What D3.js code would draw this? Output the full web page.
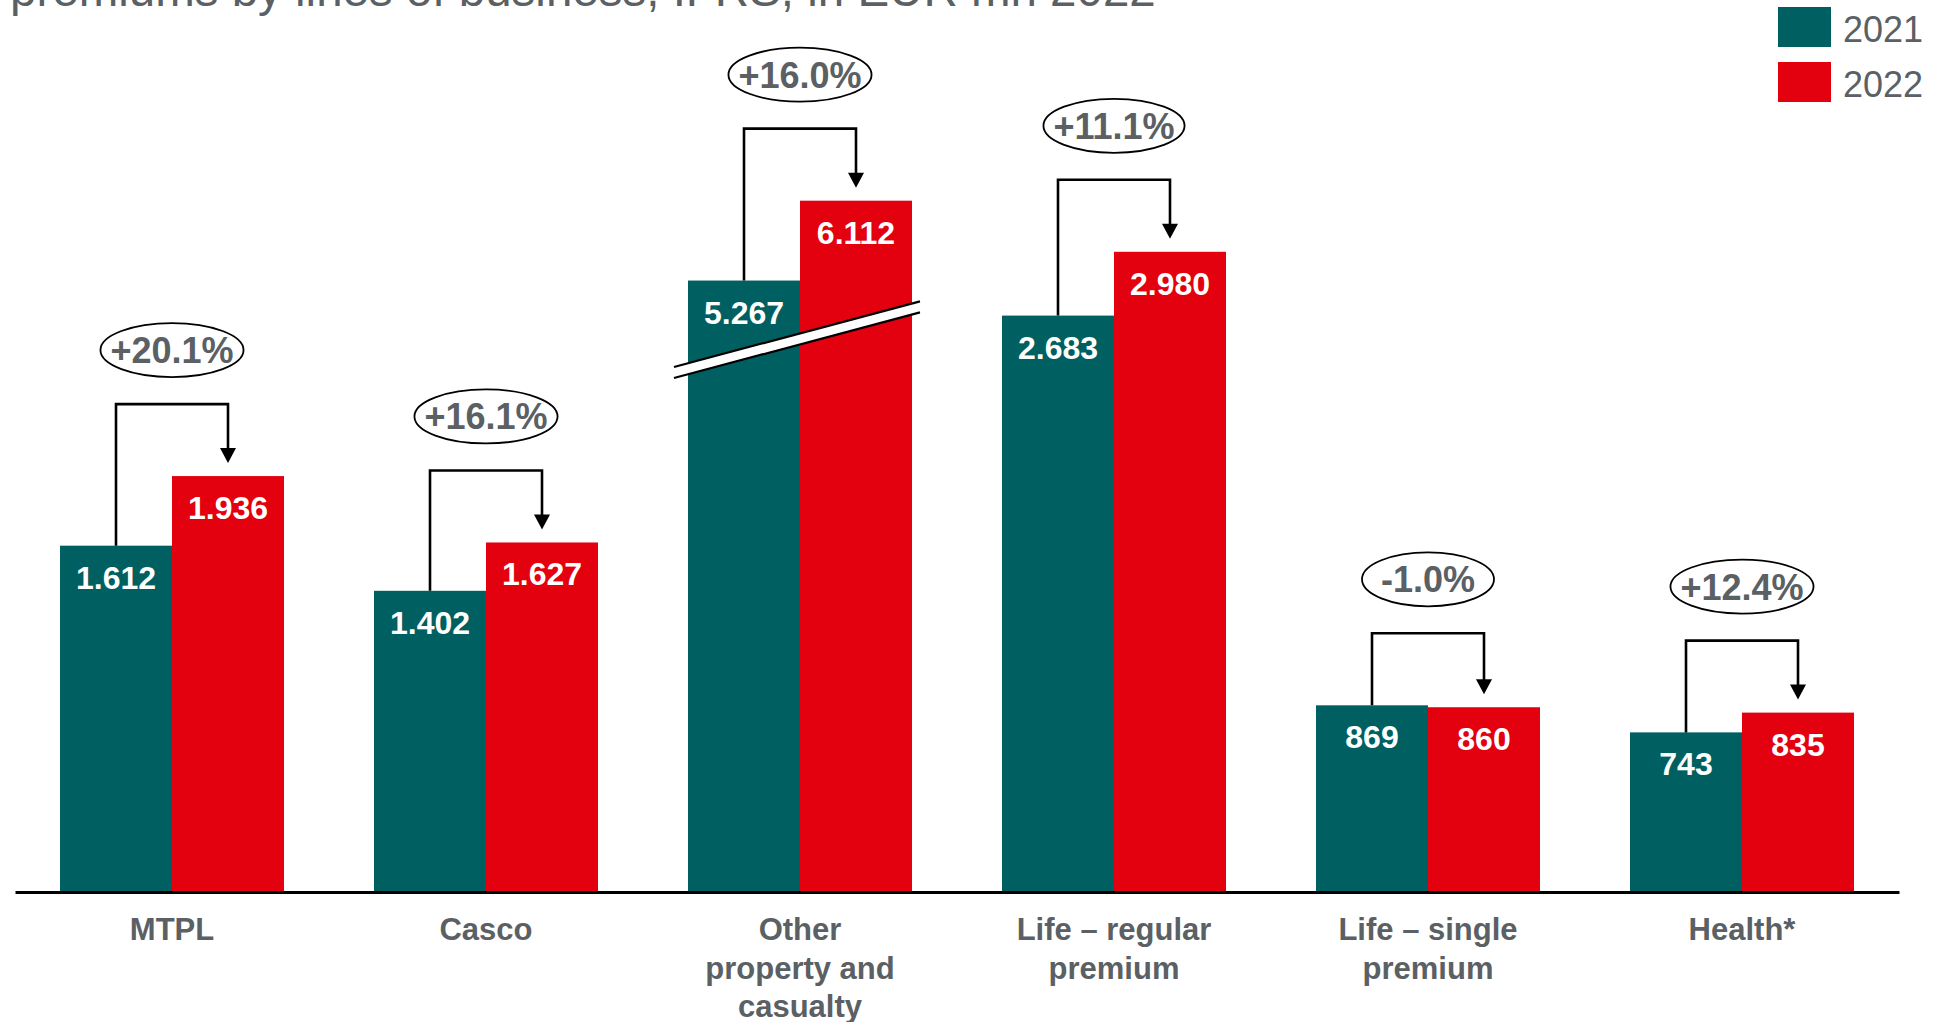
<!DOCTYPE html>
<html>
<head>
<meta charset="utf-8">
<script src="https://cdn.jsdelivr.net/npm/d3@7"></script>
<style>
  html, body { margin: 0; padding: 0; background: #fff; }
  svg { display: block; font-family: "Liberation Sans", Arial, sans-serif; }
</style>
</head>
<body>
<svg id="chart" width="1945" height="1022"></svg>
<script>
// Gross written premiums by line of business, EUR mn
const categories = ["MTPL", "Casco", "Other\nproperty and\ncasualty", "Life – regular\npremium", "Life – single\npremium", "Health*"];
const years = ["2021", "2022"];
const values2021 = [1612, 1402, 5267, 2683, 869, 743];
const values2022 = [1936, 1627, 6112, 2980, 860, 835];
const valueLabels2021 = ["1.612", "1.402", "5.267", "2.683", "869", "743"];
const valueLabels2022 = ["1.936", "1.627", "6.112", "2.980", "860", "835"];
const growthLabels = ["+20.1%", "+16.1%", "+16.0%", "+11.1%", "-1.0%", "+12.4%"];
const brokenCategory = "Other\nproperty and\ncasualty";

const colors = { "2021": "#005F61", "2022": "#E3000F" };
const grey = "#5A6063";

const svg = d3.select("#chart");
const axisY = 892;

// Category bands and year sub-bands
const x = d3.scaleBand().domain(categories).range([15, 1899]).paddingInner(90 / 314).paddingOuter(45 / 314);
const xSub = d3.scaleBand().domain(years).range([0, x.bandwidth()]);

// Main value scale
const y = d3.scaleLinear().domain([0, 4152]).range([axisY, 0]);

// Compressed scale for the category drawn with an axis break
const knot = 944, squeeze = 0.44, brokenMax = 6500;
const yBroken = d3.scaleLinear()
  .domain([0, knot, brokenMax])
  .range([y(0), y(knot), y(knot) - (y(0) - y(brokenMax - knot)) * squeeze]);
const breakValue = 4650;

const scaleFor = c => c === brokenCategory ? yBroken : y;

// Title (partly above the visible area)
svg.append("text")
  .attr("x", 10).attr("y", 6)
  .attr("font-size", 47.5).attr("fill", grey)
  .text("premiums by lines of business, IFRS, in EUR mn 2022");

// Rows of bar data
const rows = categories.map((c, i) => ({
  cat: c,
  bars: [
    { year: "2021", value: values2021[i], label: valueLabels2021[i] },
    { year: "2022", value: values2022[i], label: valueLabels2022[i] }
  ],
  growth: growthLabels[i]
}));

const groups = svg.append("g").selectAll("g.cat")
  .data(rows).join("g")
  .attr("class", "cat")
  .attr("transform", d => `translate(${x(d.cat)},0)`);

groups.selectAll("rect.bar")
  .data(d => d.bars.map(b => ({ ...b, cat: d.cat })))
  .join("rect")
  .attr("class", "bar")
  .attr("x", b => xSub(b.year))
  .attr("width", xSub.bandwidth())
  .attr("y", b => scaleFor(b.cat)(b.value))
  .attr("height", b => axisY - scaleFor(b.cat)(b.value))
  .attr("fill", b => colors[b.year]);

// Value labels inside the bars
groups.selectAll("text.val")
  .data(d => d.bars.map(b => ({ ...b, cat: d.cat })))
  .join("text")
  .attr("class", "val")
  .attr("x", b => xSub(b.year) + xSub.bandwidth() / 2)
  .attr("y", b => scaleFor(b.cat)(b.value) + 43)
  .attr("text-anchor", "middle")
  .attr("font-size", 32).attr("font-weight", "bold").attr("fill", "#fff")
  .text(b => b.label);

// Axis break on the compressed category
{
  const bx0 = x(brokenCategory) - 14;
  const bx1 = x(brokenCategory) + x.bandwidth() + 8;
  const cx = x(brokenCategory) + x.bandwidth() / 2;
  const cy = yBroken(breakValue);
  const slope = -0.267, gap = 11;
  const yAt = xx => cy + slope * (xx - cx);
  const g = svg.append("g");
  g.append("path")
    .attr("d", `M${bx0},${yAt(bx0) - gap / 2}L${bx1},${yAt(bx1) - gap / 2}L${bx1},${yAt(bx1) + gap / 2}L${bx0},${yAt(bx0) + gap / 2}Z`)
    .attr("fill", "#fff");
  [-gap / 2, gap / 2].forEach(o => {
    g.append("line")
      .attr("x1", bx0).attr("y1", yAt(bx0) + o)
      .attr("x2", bx1).attr("y2", yAt(bx1) + o)
      .attr("stroke", "#000").attr("stroke-width", 2.2);
  });
}

// Growth brackets with arrows and ellipse labels
rows.forEach(d => {
  const s = scaleFor(d.cat);
  const x0 = x(d.cat);
  const lx = x0 + xSub("2021") + xSub.bandwidth() / 2;
  const rx = x0 + xSub("2022") + xSub.bandwidth() / 2;
  const t1 = s(d.bars[0].value), t2 = s(d.bars[1].value);
  const by = Math.min(t1, t2) - 72;
  const tip = t2 - 13;
  const g = svg.append("g");
  g.append("path")
    .attr("d", `M${lx},${t1}V${by}H${rx}V${tip - 14}`)
    .attr("fill", "none").attr("stroke", "#000").attr("stroke-width", 2.6);
  g.append("path")
    .attr("d", `M${rx - 8},${tip - 15}L${rx + 8},${tip - 15}L${rx},${tip}Z`)
    .attr("fill", "#000");
  const ey = by - 54;
  const ecx = x0 + x.bandwidth() / 2;
  const label = g.append("text")
    .attr("x", ecx).attr("y", ey + 13)
    .attr("text-anchor", "middle")
    .attr("font-size", 36).attr("font-weight", "bold").attr("fill", grey)
    .text(d.growth);
  const w = label.node().getComputedTextLength();
  g.insert("ellipse", "text")
    .attr("cx", ecx).attr("cy", ey)
    .attr("rx", Math.max(w / 2 + 10, 66)).attr("ry", 27)
    .attr("fill", "none").attr("stroke", "#000").attr("stroke-width", 1.8);
});

// Baseline axis
svg.append("g")
  .attr("transform", `translate(0,${axisY})`)
  .call(d3.axisBottom(x).tickSize(0).tickSizeOuter(0).tickFormat(""))
  .call(g => g.select(".domain").attr("stroke", "#000").attr("stroke-width", 3));

// Category labels
svg.append("g").selectAll("text.cat")
  .data(categories).join("text")
  .attr("class", "cat")
  .attr("x", c => x(c) + x.bandwidth() / 2)
  .attr("y", 940)
  .attr("text-anchor", "middle")
  .attr("font-size", 31).attr("font-weight", "bold").attr("fill", grey)
  .selectAll("tspan")
  .data(c => c.split("\n"))
  .join("tspan")
  .attr("x", function () { return this.parentNode.getAttribute("x"); })
  .attr("dy", (l, i) => i === 0 ? 0 : 38.5)
  .text(l => l);

// Legend
const legend = svg.append("g").selectAll("g")
  .data(years).join("g")
  .attr("transform", (yr, i) => `translate(1778,${7 + i * 55})`);
legend.append("rect").attr("width", 53).attr("height", 40).attr("fill", yr => colors[yr]);
legend.append("text").attr("x", 65).attr("y", 35)
  .attr("font-size", 36).attr("fill", grey).text(yr => yr);
</script>
</body>
</html>
